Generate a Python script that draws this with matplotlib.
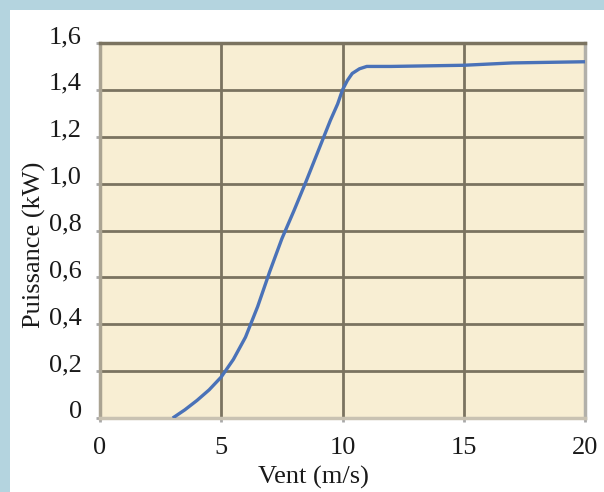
import numpy as np
import matplotlib
matplotlib.use('Agg')
import matplotlib.pyplot as plt
from matplotlib.patches import Rectangle

# courbe de puissance
vent = [3.0, 3.5, 4.0, 4.5, 5.0, 5.5, 6.0, 6.5, 7.0, 7.5, 8.0, 8.5, 9.0,
        9.5, 9.8, 10.0, 10.2, 10.4, 10.7, 11.0, 12.0, 15.0, 17.0, 20.0]
puissance = [0.0, 0.035, 0.075, 0.12, 0.175, 0.25, 0.345, 0.475, 0.625,
             0.765, 0.885, 1.01, 1.14, 1.27, 1.34, 1.40, 1.44, 1.47, 1.49,
             1.50, 1.50, 1.505, 1.515, 1.52]

x_ticks = [0, 5, 10, 15, 20]
y_ticks = [0, 0.2, 0.4, 0.6, 0.8, 1.0, 1.2, 1.4, 1.6]
y_labels = ['0', '0,2', '0,4', '0,6', '0,8', '1,0', '1,2', '1,4', '1,6']

plt.rcParams['font.family'] = ['Liberation Serif', 'DejaVu Serif']

fig = plt.figure(figsize=(6.04, 4.92), dpi=100)
fig.patch.set_facecolor('#b4d4df')
# panneau blanc
fig.patches.append(Rectangle((10 / 604, 0), 1, 1 - 10 / 492,
                             transform=fig.transFigure, facecolor='white',
                             edgecolor='none', zorder=-5))

ax = fig.add_axes([100 / 604, 1 - 418 / 492, 485 / 604, 375 / 492])
ax.set_facecolor('#f8eed3')

ax.plot(vent, puissance, color='#4a72b8', lw=2.4, solid_capstyle='butt',
        solid_joinstyle='round', zorder=3)

ax.set_xlim(0, 20)
ax.set_ylim(0, 1.6)
ax.set_xticks(x_ticks)
ax.set_xticklabels([str(t) for t in x_ticks])
ax.set_yticks(y_ticks)
ax.set_yticklabels(y_labels, va='baseline')

ax.grid(True, color='#7b7360', lw=2.0)
ax.set_axisbelow(True)

for side, col in [('top', '#7b7360'), ('left', '#aaa392'),
                  ('right', '#b2b0aa'), ('bottom', '#c9c2b2')]:
    ax.spines[side].set_color(col)
    ax.spines[side].set_linewidth(2.5)

ax.tick_params(axis='both', length=3, width=2, color='#a8a8a8',
               labelsize=19, labelcolor='#1a1a1a')
ax.tick_params(axis='y', pad=10)
ax.tick_params(axis='x', pad=10.5)

ax.set_xlabel('Vent (m/s)', fontsize=19, color='#1a1a1a')
ax.xaxis.set_label_coords(0.44, -0.128)
ax.set_ylabel('Puissance (kW)', fontsize=19, color='#1a1a1a')
ax.yaxis.set_label_coords(-0.111, 0.461)

fig.savefig('out.png', dpi=100, facecolor=fig.get_facecolor())
